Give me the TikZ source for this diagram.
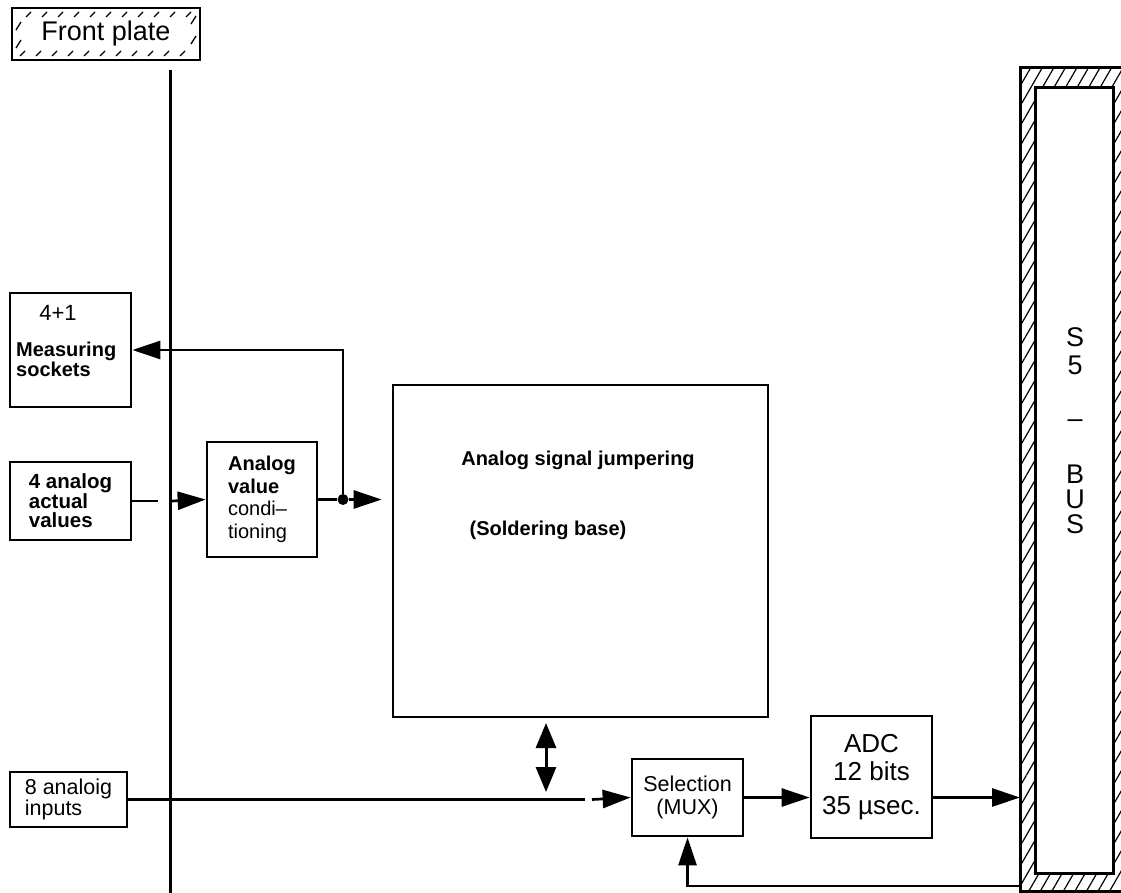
\documentclass[tikz,border=0pt]{standalone}
\usepackage{fontspec}
\setmainfont{Liberation Sans}
\usetikzlibrary{arrows.meta,patterns.meta}

\begin{document}
\begin{tikzpicture}[x=1pt,y=-1pt,
    blk/.style={draw, line width=2.7pt, inner sep=0pt, align=left},
    arr/.style={line width=2.7pt, -{Triangle[length=28pt,width=18pt]}},
    lbl/.style={inner sep=0pt, align=left}]
    \useasboundingbox (0,0) rectangle (1121,893);

    % Front plate
    \node[blk, minimum width=188pt, minimum height=52pt, font=\fontsize{27}{28}\selectfont] (fplate) at (106,34) {Front plate};
    \foreach \xx in {26,42,...,190} {
        \draw[line width=1.3pt] (\xx,17) -- (\xx+5,12);
        \draw[line width=1.3pt] (\xx-6,56) -- (\xx-1,51);
    }
    \draw[line width=1.3pt] (16,30) -- (21,22);
    \draw[line width=1.3pt] (16,48) -- (21,40);
    \draw[line width=1.3pt] (191,24) -- (196,16);
    \draw[line width=1.3pt] (191,44) -- (196,36);
    \draw[line width=3pt] (170,70) -- (170,893);

    % Left boxes
    \node[blk, minimum width=121pt, minimum height=114pt] (msock) at (70.5,350) {};
    \node[lbl, font=\fontsize{22}{22}\selectfont] (t41) at (58,313) {4+1};
    \node[lbl, anchor=west, font=\fontsize{20}{18}\selectfont\bfseries] (tms) at (16,359) {Measuring\\sockets};
    \node[blk, minimum width=121pt, minimum height=78pt, font=\fontsize{20.5}{19.5}\selectfont\bfseries] (vals) at (70.5,501) {4 analog\\actual\\values};
    \node[blk, minimum width=117pt, minimum height=55pt, font=\fontsize{21.5}{20}\selectfont] (inputs) at (68.5,799.5) {8 analoig\\inputs};

    % Conditioning
    \node[blk, minimum width=110pt, minimum height=115pt, font=\fontsize{20}{22.5}\selectfont] (cond) at (262,499.5) {\textbf{Analog}\\\textbf{value}\\condi–\\tioning};
    \node[circle, fill, inner sep=0pt, minimum size=11pt] (junc) at (343,499.5) {};

    % Jumpering
    \node[blk, minimum width=375pt, minimum height=332pt] (jump) at (580.5,551) {};
    \node[lbl, font=\fontsize{20}{20}\selectfont\bfseries] (tjmp) at (578,460) {Analog signal jumpering};
    \node[lbl, font=\fontsize{20}{20}\selectfont\bfseries] (tsold) at (548,530) {(Soldering base)};

    % MUX and ADC
    \node[blk, align=center, minimum width=111pt, minimum height=77pt, font=\fontsize{21.5}{23}\selectfont] (mux) at (687.5,797.5) {Selection\\(MUX)};
    \node[blk, align=center, minimum width=121pt, minimum height=122pt, font=\fontsize{26}{28}\selectfont] (adc) at (871.5,777) {ADC\\12 bits\\[6pt]35 µsec.};

    % S5 bus
    \coordinate (busnw) at (1020,68);
    \coordinate (busse) at (1125,891);
    \fill[pattern={Lines[angle=60,distance=10pt,line width=1.2pt]}, even odd rule]
        (busnw) rectangle (busse) (1035,88) rectangle (1113,873);
    \draw[line width=3pt] (1121,68) -- (busnw) -- (1020,891) -- (1121,891);
    \draw[line width=3pt, fill=white] (1035,88) rectangle (1113,873);
    \foreach \ch/\yy [count=\i] in {S/346,5/374,–/427,B/483,U/508,S/533}
        \node[inner sep=0pt, anchor=base, font=\fontsize{27}{27}\selectfont] (bl\i) at (1075,\yy) {\ch};

    % Connections
    \coordinate (fpa) at (158,501);
    \coordinate (fpb) at (172,501);
    \draw[line width=2.7pt] (vals.east) -- (fpa);
    \draw[arr] (fpb) -- (cond.west);
    \draw[line width=2.7pt] (cond.east) -- (junc);
    \draw[arr, shorten >=10pt] (junc) -- (junc -| jump.west);
    \draw[arr] (junc) |- (msock.east);
    \coordinate (dtop) at (546,723);
    \coordinate (dbot) at (546,792);
    \draw[line width=3pt, {Triangle[length=25pt,width=20pt]}-{Triangle[length=25pt,width=20pt]}] (dtop) -- (dbot);
    \coordinate (ina) at (585,799.5);
    \coordinate (inb) at (592,799.5);
    \draw[line width=2.7pt] (inputs.east) -- (ina);
    \draw[arr] (inb) -- (mux.west);
    \draw[arr] (mux.east) -- (mux.east -| adc.west);
    \draw[arr] (mux.east -| adc.east) -- (mux.east -| busnw);
    \coordinate (fb) at (1020,886);
    \draw[arr] (fb) -| (mux.south);
\end{tikzpicture}
\end{document}
